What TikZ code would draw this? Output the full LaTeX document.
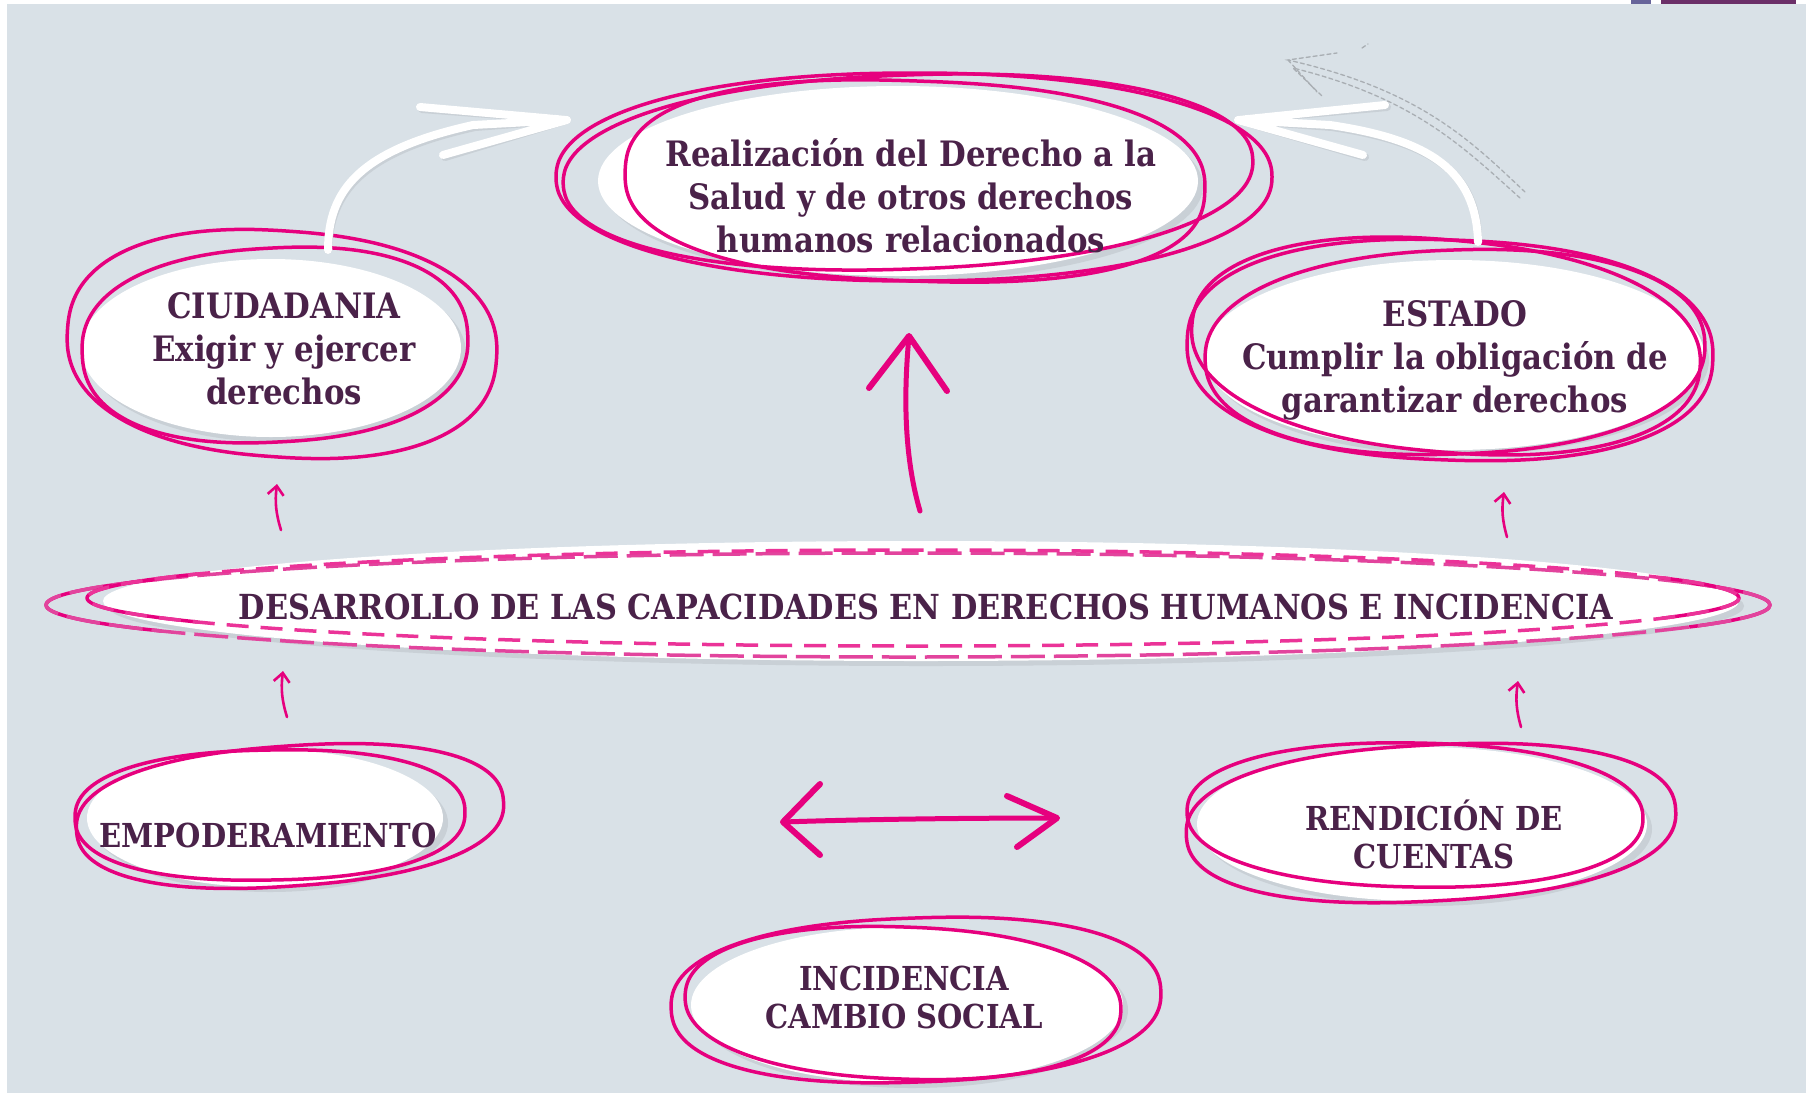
\documentclass[tikz,border=0pt]{standalone}
\usepackage{fontspec}
\newfontfamily\slab[FakeStretch=0.88]{DejaVu Serif}
\usetikzlibrary{calc,arrows.meta}
\definecolor{bgc}{HTML}{D9E1E7}
\definecolor{pk}{HTML}{E6007E}
\definecolor{txt}{HTML}{4A2249}
\definecolor{barA}{HTML}{67649A}
\definecolor{barB}{HTML}{6B2F68}
\definecolor{shd}{HTML}{C9D0D6}
\definecolor{gh}{HTML}{A9AEB3}
\pgfdeclarelayer{back}
\pgfdeclarelayer{bg}
\pgfsetlayers{back,bg,main}
\tikzset{
  lbl/.style={font=\slab\bfseries\fontsize{35}{43}\selectfont, text=txt, align=center, inner sep=0pt},
  lblsmall/.style={lbl, font=\slab\bfseries\fontsize{33}{38}\selectfont},
  loopline/.style={draw=pk, line width=3.5pt, line join=round},
  blob/.style={fill=white},
  blobshadow/.style={fill=shd},
  pinkarrow/.style={draw=pk, line width=2.6pt, line cap=round, line join=round},
  bigarrow/.style={draw=pk, line width=5pt, line cap=round, line join=round},
  whitearrow/.style={draw=white, line width=8pt, line cap=round, line join=round},
  whiteshade/.style={draw=shd, line width=8pt, line cap=round, line join=round},
  ghost/.style={draw=gh, line width=1.3pt, dash pattern=on 4pt off 3pt, line cap=round},
  barb/.style={-{Straight Barb[length=9pt, width=16pt]}}
}
% squarish hand-drawn loop: options, cx, cy, rx, ry, rotation, exponent
\newcommand\ringat[7]{\draw[#1, rotate around={#6:(#2,#3)}] plot[domain=0:360, samples=160, smooth cycle] ({#2+#4*sign(cos(\x))*pow(abs(cos(\x)),#7)}, {#3+#5*sign(sin(\x))*pow(abs(sin(\x)),#7)});}
\newcommand\blobat[4]{\fill[blobshadow] (#1+5,#2+5) ellipse[x radius=#3, y radius=#4];\fill[blob] (#1,#2) ellipse[x radius=#3, y radius=#4];}
\begin{document}
\begin{tikzpicture}[x=1pt,y=-1pt]
\useasboundingbox (0,0) rectangle (1806,1093);
\begin{pgfonlayer}{back}
\fill[white] (0,0) rectangle (1806,1093);
\fill[bgc] (7,4) rectangle (1806,1093);
\fill[barA] (1631,0) rectangle (1651,4);
\fill[barB] (1661,0) rectangle (1796,4);
\end{pgfonlayer}

% ---------- text nodes ----------
\node[lbl] (real) at (911,196) {Realización del Derecho a la\\Salud y de otros derechos\\humanos relacionados};
\node[lbl] (ciu) at (284,349) {CIUDADANIA\\Exigir y ejercer\\derechos};
\node[lbl] (est) at (1455,360) {ESTADO\\Cumplir la obligación de\\garantizar derechos};
\node[lbl, font=\slab\bfseries\fontsize{34.5}{43}\selectfont] (des) at (926,607) {DESARROLLO DE LAS CAPACIDADES EN DERECHOS HUMANOS E INCIDENCIA};
\node[lblsmall] (emp) at (268,835) {EMPODERAMIENTO};
\node[lblsmall] (ren) at (1434,834) {RENDICIÓN DE\\CUENTAS};
\node[lblsmall] (inc) at (904,997) {INCIDENCIA\\CAMBIO SOCIAL};

\begin{pgfonlayer}{bg}
% white blobs
\blobat{898}{181}{300}{95}
\blobat{271}{348}{190}{89}
\blobat{1454}{355}{250}{95}
\blobat{921}{601}{818}{60}
\blobat{265}{818}{178}{69}
\blobat{1422}{824}{225}{77}
\blobat{907}{1005}{216}{78}

% pink hand-drawn loops
\ringat{loopline}{914}{177}{358}{104}{0}{0.92}
\ringat{loopline}{908}{172}{345}{97}{2}{0.92}
\ringat{loopline}{915}{181}{290}{100}{-2}{0.82}

\ringat{loopline}{282}{344}{215}{113}{-4}{0.86}
\ringat{loopline}{275}{345}{193}{97}{3}{0.86}

\ringat{loopline}{1450}{350}{263}{110}{-2}{0.86}
\ringat{loopline}{1455}{352}{250}{102}{2}{0.9}
\ringat{loopline}{1446}{346}{255}{106}{-5}{0.9}

% desarrollo: solid ends, dashed middle
\draw[loopline] (908,605) ++(150:862 and 52) arc[start angle=150, end angle=210, x radius=862, y radius=52];
\draw[loopline] (908,605) ++(-25:862 and 52) arc[start angle=-25, end angle=25, x radius=862, y radius=52];
\draw[loopline, draw=pk!70!bgc, dash pattern=on 34pt off 9pt] (908,605) ellipse[x radius=862, y radius=52];
\draw[loopline] (913,598) ++(150:826 and 48) arc[start angle=150, end angle=210, x radius=826, y radius=48];
\draw[loopline] (913,598) ++(-25:826 and 48) arc[start angle=-25, end angle=25, x radius=826, y radius=48];
\draw[loopline, draw=pk!80!white, dash pattern=on 22pt off 12pt] (913,598) ellipse[x radius=826, y radius=48];

\ringat{loopline}{290}{816}{214}{70}{4}{0.86}
\ringat{loopline}{270}{815}{195}{65}{1}{0.86}

\ringat{loopline}{1431}{823}{245}{78}{3}{0.86}
\ringat{loopline}{1415}{815}{228}{72}{-1}{0.9}

\ringat{loopline}{916}{1000}{245}{82}{2}{0.86}
\ringat{loopline}{903}{1003}{218}{76}{-2}{0.9}
\end{pgfonlayer}

% ---------- white arrows to the top node ----------
\coordinate (wl0) at (328,250);
\coordinate (wl1) at (567,120);
\coordinate (wr0) at (1478,242);
\coordinate (wr1) at (1238,120);
\draw[whiteshade, shift={(2,2)}] (wl0) .. controls (328,190) and (360,150) .. (473,125) -- (wl1) -- (420,107) (wl1) -- (443,155);
\draw[whitearrow] (wl0) .. controls (328,190) and (360,150) .. (473,125) -- (wl1) -- (420,107) (wl1) -- (443,155);
\draw[whiteshade, shift={(2,2)}] (wr0) .. controls (1476,172) and (1432,140) .. (1330,125) -- (wr1) -- (1385,105) (wr1) -- (1363,155);
\draw[whitearrow] (wr0) .. controls (1476,172) and (1432,140) .. (1330,125) -- (wr1) -- (1385,105) (wr1) -- (1363,155);
% ghost sketch
\coordinate (g0) at (1525,192);
\coordinate (g1) at (1288,60);
\draw[ghost] (g0) .. controls (1470,140) and (1420,90) .. (g1) -- (1337,53) (g1) -- (1317,92);
\draw[ghost] (1520,198) .. controls (1462,146) and (1414,98) .. (1293,68) -- (1322,96);
\draw[ghost] (1362,48) -- (1368,44);

% ---------- central big arrow ----------
\coordinate (b0) at (920,511);
\coordinate (b1) at (909,336);
\draw[bigarrow] (b0) .. controls (905,460) and (903,400) .. (b1);
\draw[bigarrow, line width=6pt] (869,388) -- (b1) -- (947,391);

% ---------- double arrow ----------
\coordinate (d0) at (783,822);
\coordinate (d1) at (1057,818);
\draw[bigarrow] (d0) .. controls (870,819) and (980,818) .. (d1);
\draw[bigarrow, line width=6pt] (820,784) -- (d0) -- (820,855);
\draw[bigarrow, line width=6pt] (1007,796) -- (d1) -- (1017,847);

% ---------- small arrows ----------
\coordinate (s1a) at (281,530); \coordinate (s1b) at (277,484);
\coordinate (s2a) at (287,717); \coordinate (s2b) at (283,671);
\coordinate (s3a) at (1507,537); \coordinate (s3b) at (1504,492);
\coordinate (s4a) at (1521,727); \coordinate (s4b) at (1518,681);
\draw[pinkarrow, barb] (s1a) to[bend left=12] (s1b);
\draw[pinkarrow, barb] (s2a) to[bend left=12] (s2b);
\draw[pinkarrow, barb] (s3a) to[bend left=12] (s3b);
\draw[pinkarrow, barb] (s4a) to[bend left=12] (s4b);
\end{tikzpicture}
\end{document}
